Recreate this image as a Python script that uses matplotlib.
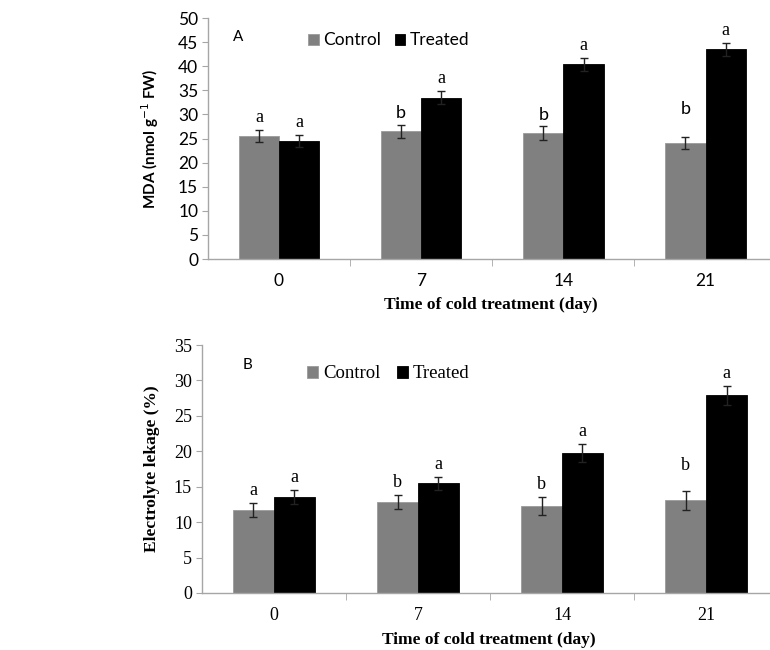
import numpy as np
import matplotlib
matplotlib.use("Agg")
import matplotlib.pyplot as plt
from matplotlib.ticker import FixedLocator

# data
days = ["0", "7", "14", "21"]

mda_control = [25.5, 26.5, 26.1, 24.1]
mda_control_err = [1.2, 1.3, 1.4, 1.2]
mda_treated = [24.5, 33.5, 40.4, 43.5]
mda_treated_err = [1.2, 1.4, 1.4, 1.3]
mda_letters_c = ["a", "b", "b", "b"]
mda_letters_t = ["a", "a", "a", "a"]

el_control = [11.7, 12.9, 12.3, 13.1]
el_control_err = [1.0, 1.0, 1.3, 1.35]
el_treated = [13.5, 15.5, 19.8, 27.9]
el_treated_err = [1.0, 0.9, 1.25, 1.35]
el_letters_c = ["a", "b", "b", "b"]
el_letters_t = ["a", "a", "a", "a"]

SANS = ["Lato", "DejaVu Sans"]
SERIF = ["Liberation Serif", "DejaVu Serif"]
GREY = "#808080"
AXC = "#a6a6a6"

fig = plt.figure(figsize=(7.7, 6.5), dpi=100)
axA = fig.add_axes([0.270, 0.6015, 0.735, 0.3708])
axB = fig.add_axes([0.262, 0.0877, 0.745, 0.3815])

x = np.arange(len(days))
w = 0.283


def panel(ax, ctrl, cerr, trt, terr, ymax, step, tick_family, tick_size,
          lc, lt, pad, extra_last, bfont):
    ax.bar(x - w / 2, ctrl, w, color=GREY, edgecolor="#9a9a9a", linewidth=0.6,
           label="Control")
    ax.bar(x + w / 2, trt, w, color="black", edgecolor="black", linewidth=0.6,
           label="Treated")
    ax.errorbar(x - w / 2, ctrl, yerr=cerr, fmt="none", ecolor="#222222",
                elinewidth=1.0, capsize=3, capthick=1.0)
    ax.errorbar(x + w / 2, trt, yerr=terr, fmt="none", ecolor="#222222",
                elinewidth=1.0, capsize=3, capthick=1.0)
    for i in range(len(x)):
        extra = extra_last if i == 3 else 0
        ax.text(x[i] - w / 2, ctrl[i] + cerr[i] + pad + extra, lc[i],
                ha="center", va="bottom", family=bfont(lc[i]), fontsize=13)
        ax.text(x[i] + w / 2, trt[i] + terr[i] + pad, lt[i],
                ha="center", va="bottom", family=SERIF, fontsize=13)
    ax.set_ylim(0, ymax)
    ax.set_xlim(-0.5, 3.48)
    ax.set_yticks(np.arange(0, ymax + 0.1, step))
    ax.set_xticks(x)
    ax.set_xticklabels(days)
    ax.xaxis.set_minor_locator(FixedLocator([0.5, 1.5, 2.5]))
    ax.tick_params(axis="x", which="major", length=0, pad=10)
    ax.tick_params(axis="x", which="minor", length=5, color=AXC, direction="out")
    ax.tick_params(axis="y", length=4, color=AXC, direction="out", pad=3)
    for lab in ax.get_xticklabels() + ax.get_yticklabels():
        lab.set_family(tick_family)
        lab.set_fontsize(tick_size)
    for s in ["top", "right"]:
        ax.spines[s].set_visible(False)
    for s in ["left", "bottom"]:
        ax.spines[s].set_color(AXC)
        ax.spines[s].set_linewidth(1.0)
    ax.set_xlabel("Time of cold treatment (day)", family=SERIF,
                  fontweight="bold", fontsize=12.5, labelpad=6)


panel(axA, mda_control, mda_control_err, mda_treated, mda_treated_err,
      50, 5, SANS, 12.5, mda_letters_c, mda_letters_t, 0.8, 3.4,
      lambda s: SANS if s == "b" else SERIF)
panel(axB, el_control, el_control_err, el_treated, el_treated_err,
      35, 5, SERIF, 13, el_letters_c, el_letters_t, 0.55, 1.8,
      lambda s: SERIF)

axA.set_ylabel("MDA (nmol g$^{-1}$ FW)", family=SANS, fontweight="bold",
               fontsize=11, labelpad=12)
axB.set_ylabel("Electrolyte lekage (%)", family=SERIF, fontweight="bold",
               fontsize=12.5, labelpad=10)

axA.text(0.045, 0.905, "A", transform=axA.transAxes, family=SANS, fontsize=11)
axB.text(0.072, 0.905, "B", transform=axB.transAxes, family=SANS, fontsize=11)

legA = axA.legend(loc="upper left", bbox_to_anchor=(0.15, 1.005), ncol=2,
                  frameon=False, handlelength=0.6, handleheight=0.6,
                  handletextpad=0.25, columnspacing=0.8,
                  prop={"family": SANS, "size": 12.5})
legB = axB.legend(loc="upper left", bbox_to_anchor=(0.154, 0.986), ncol=2,
                  frameon=False, handlelength=0.6, handleheight=0.6,
                  handletextpad=0.25, columnspacing=0.9,
                  prop={"family": SERIF, "size": 13.5})

fig.savefig("out.png", dpi=100)
